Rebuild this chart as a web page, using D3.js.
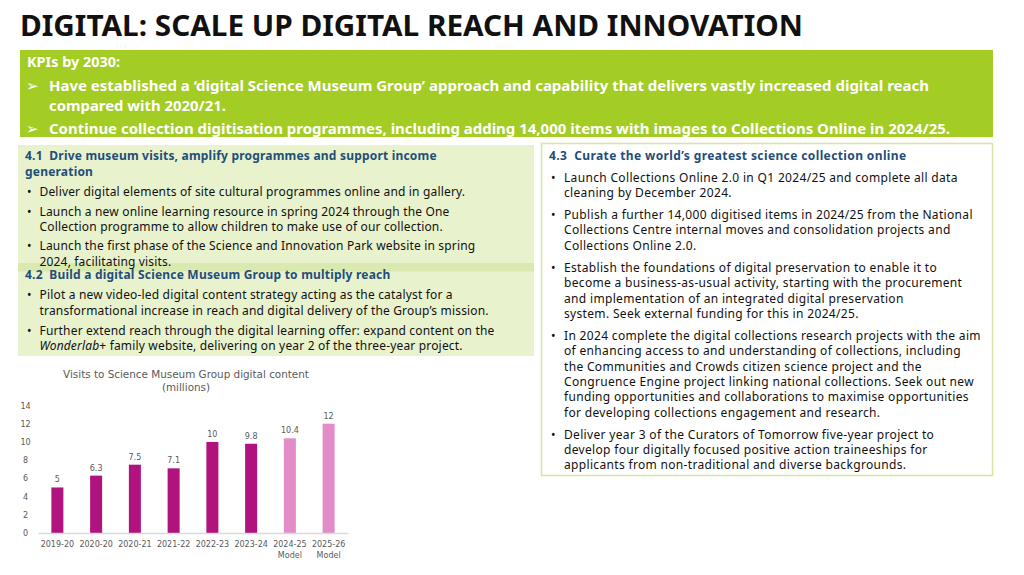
<!DOCTYPE html>
<html>
<head>
<meta charset="utf-8">
<script src="https://cdn.jsdelivr.net/npm/d3@7"></script>
<style>
  html, body { margin: 0; padding: 0; background: #fff; }
  svg { display: block; }
</style>
</head>
<body>
<svg id="slide" width="1024" height="575"></svg>
<script>
// данные графика
const categories = ["2019-20", "2020-20", "2020-21", "2021-22", "2022-23", "2023-24", "2024-25", "2025-26"];
const isModel = [false, false, false, false, false, false, true, true];
const visits = [5, 6.3, 7.5, 7.1, 10, 9.8, 10.4, 12];
const yTicks = [0, 2, 4, 6, 8, 10, 12, 14];

// тексты слайда
const slideTitle = "DIGITAL: SCALE UP DIGITAL REACH AND INNOVATION";
const kpiHeader = "KPIs by 2030:";
const kpiLines = [
  ["Have established a \u2018digital Science Museum Group\u2019 approach and capability that delivers vastly increased digital reach",
   "compared with 2020/21."],
  ["Continue collection digitisation programmes, including adding 14,000 items with images to Collections Online in 2024/25."]
];

const block41 = {
  heading: ["4.1  Drive museum visits, amplify programmes and support income", "generation"],
  bullets: [
    ["Deliver digital elements of site cultural programmes online and in gallery."],
    ["Launch a new online learning resource in spring 2024 through the One",
     "Collection programme to allow children to make use of our collection."],
    ["Launch the first phase of the Science and Innovation Park website in spring",
     "2024, facilitating visits."]
  ]
};
const block42 = {
  heading: ["4.2  Build a digital Science Museum Group to multiply reach"],
  bullets: [
    ["Pilot a new video-led digital content strategy acting as the catalyst for a",
     "transformational increase in reach and digital delivery of the Group\u2019s mission."],
    ["Further extend reach through the digital learning offer: expand content on the",
     "<i>Wonderlab</i>+ family website, delivering on year 2 of the three-year project."]
  ]
};
const block43 = {
  heading: ["4.3  Curate the world\u2019s greatest science collection online"],
  bullets: [
    ["Launch Collections Online 2.0 in Q1 2024/25 and complete all data",
     "cleaning by December 2024."],
    ["Publish a further 14,000 digitised items in 2024/25 from the National",
     "Collections Centre internal moves and consolidation projects and",
     "Collections Online 2.0."],
    ["Establish the foundations of digital preservation to enable it to",
     "become a business-as-usual activity, starting with the procurement",
     "and implementation of an integrated digital preservation",
     "system. Seek external funding for this in 2024/25."],
    ["In 2024 complete the digital collections research projects with the aim",
     "of enhancing access to and understanding of collections, including",
     "the Communities and Crowds citizen science project and the",
     "Congruence Engine project linking national collections. Seek out new",
     "funding opportunities and collaborations to maximise opportunities",
     "for developing collections engagement and research."],
    ["Deliver year 3 of the Curators of Tomorrow five-year project to",
     "develop four digitally focused positive action traineeships for",
     "applicants from non-traditional and diverse backgrounds."]
  ]
};

const svg = d3.select("#slide");
const bodyFont = "'Noto Sans', 'Open Sans', sans-serif";
const blue = "#1f4e79";

// заголовок
svg.append("text")
  .attr("x", 20).attr("y", 36)
  .attr("font-family", bodyFont).attr("font-weight", 700)
  .attr("font-size", 28).attr("fill", "#111")
  .attr("textLength", 783).attr("lengthAdjust", "spacingAndGlyphs")
  .text(slideTitle);

// зелёный блок KPI
svg.append("rect").attr("x", 20).attr("y", 50).attr("width", 973).attr("height", 87).attr("fill", "#a3cc25");

function kpiText(txt, x, y, len) {
  svg.append("text")
    .attr("x", x).attr("y", y)
    .attr("font-family", bodyFont).attr("font-weight", 700)
    .attr("font-size", 14.5).attr("fill", "#fff")
    .attr("textLength", len).attr("lengthAdjust", "spacingAndGlyphs")
    .text(txt);
}
function kpiArrow(y) {
  svg.append("text")
    .attr("x", 26).attr("y", y)
    .attr("font-family", "'DejaVu Sans', sans-serif")
    .attr("font-size", 15).attr("fill", "#fff")
    .text("\u27A2");
}
kpiText(kpiHeader, 27, 67, 93);
kpiArrow(91);
kpiText(kpiLines[0][0], 49, 91, 880);
kpiText(kpiLines[0][1], 49, 111, 177);
kpiArrow(134);
kpiText(kpiLines[1][0], 49, 134, 901);

// панели
svg.append("rect").attr("x", 18).attr("y", 145).attr("width", 516).attr("height", 122).attr("fill", "#e8f2cd");
svg.append("rect").attr("x", 18).attr("y", 263).attr("width", 516).attr("height", 93).attr("fill", "#e8f2cd");
svg.append("rect").attr("x", 18).attr("y", 263).attr("width", 516).attr("height", 8.5).attr("fill", "#d9e9b0");
svg.append("rect").attr("x", 541.5).attr("y", 143.5).attr("width", 451).attr("height", 332)
  .attr("fill", "#fff").attr("stroke", "#d3e5a0").attr("stroke-width", 1.5);

// блок текста: заголовок + маркированный список
function drawBlock(block, xHead, xDot, xText, yStart, lh, headToBullet, gap, ls, lsHead) {
  const fs = 12;
  let y = yStart;
  block.heading.forEach((line, i) => {
    svg.append("text")
      .attr("x", xHead).attr("y", y + 4.3)
      .attr("font-family", bodyFont).attr("font-weight", 700)
      .attr("font-size", fs).attr("fill", blue)
      .attr("letter-spacing", lsHead)
      .attr("xml:space", "preserve")
      .text(line);
    if (i < block.heading.length - 1) y += 16;
  });
  y += headToBullet;
  block.bullets.forEach(lines => {
    svg.append("text")
      .attr("x", xDot).attr("y", y + 4.3)
      .attr("font-family", bodyFont).attr("font-size", fs).attr("fill", "#111")
      .text("\u2022");
    lines.forEach((line, i) => {
      const t = svg.append("text")
        .attr("x", xText).attr("y", y + 4.3)
        .attr("font-family", bodyFont).attr("font-size", fs).attr("fill", "#111")
        .attr("letter-spacing", ls);
      const parts = line.split(/<i>|<\/i>/);
      parts.forEach((p, k) => {
        t.append("tspan").attr("font-style", k % 2 === 1 ? "italic" : "normal").text(p);
      });
      if (i < lines.length - 1) y += lh;
    });
    y += lh + gap;
  });
}

drawBlock(block41, 25, 27, 39.5, 155.7, 15.3, 20, 4.2, 0.17, 0.2);
drawBlock(block42, 25, 27, 39.5, 275, 15.3, 20, 4.7, 0.17, 0.2);
drawBlock(block43, 549, 551, 564, 155.7, 15.3, 21.6, 6.9, 0.33, 0.38);

// график
const chartColor = "#b0137e";
const modelColor = "#e38dc8";
const grey = "#595959";

const scX = d3.scaleBand()
  .domain(categories)
  .range([38, 348])
  .paddingInner(0.69)
  .paddingOuter(0.345);

const scY = d3.scaleLinear()
  .domain([0, 14])
  .range([533, 405.5]);

const chart = svg.append("g");

chart.append("text")
  .attr("x", 186).attr("y", 377.5)
  .attr("text-anchor", "middle")
  .attr("font-family", "'DejaVu Sans', sans-serif").attr("font-size", 10.4)
  .attr("fill", grey)
  .text("Visits to Science Museum Group digital content");
chart.append("text")
  .attr("x", 186).attr("y", 391)
  .attr("text-anchor", "middle")
  .attr("font-family", "'DejaVu Sans', sans-serif").attr("font-size", 10.4)
  .attr("fill", grey)
  .text("(millions)");

// ось Y
const axisY = chart.append("g")
  .attr("transform", "translate(30, 0)")
  .call(d3.axisLeft(scY).tickValues(yTicks).tickSize(0).tickPadding(0));
axisY.select(".domain").remove();
axisY.selectAll("text")
  .attr("x", -4.5)
  .attr("text-anchor", "middle")
  .attr("font-family", "'DejaVu Sans', sans-serif")
  .attr("font-size", 8)
  .attr("fill", grey);

// столбцы
chart.selectAll(".bar")
  .data(categories)
  .enter()
  .append("rect")
  .attr("class", "bar")
  .attr("x", d => scX(d))
  .attr("y", (d, i) => scY(visits[i]))
  .attr("width", scX.bandwidth())
  .attr("height", (d, i) => scY(0) - scY(visits[i]))
  .attr("fill", (d, i) => isModel[i] ? modelColor : chartColor);

// подписи значений
chart.selectAll(".val")
  .data(categories)
  .enter()
  .append("text")
  .attr("class", "val")
  .attr("x", d => scX(d) + scX.bandwidth() / 2)
  .attr("y", (d, i) => scY(visits[i]) - 5)
  .attr("text-anchor", "middle")
  .attr("font-family", "'DejaVu Sans', sans-serif")
  .attr("font-size", 8)
  .attr("fill", grey)
  .text((d, i) => visits[i]);

// ось X
const axisX = chart.append("g")
  .attr("transform", `translate(0, ${scY(0)})`)
  .call(d3.axisBottom(scX).tickSize(0).tickSizeOuter(0).tickPadding(0));
axisX.select(".domain").attr("stroke", "#d9d9d9").attr("stroke-width", 1.5);
axisX.selectAll(".tick text").each(function (d, i) {
  const t = d3.select(this);
  t.text(null)
    .attr("y", 0).attr("dy", null)
    .attr("font-family", "'DejaVu Sans', sans-serif")
    .attr("font-size", 8)
    .attr("fill", grey);
  t.append("tspan").attr("x", 0).attr("y", 14).text(d);
  if (isModel[i]) t.append("tspan").attr("x", 0).attr("y", 25).text("Model");
});
</script>
</body>
</html>
